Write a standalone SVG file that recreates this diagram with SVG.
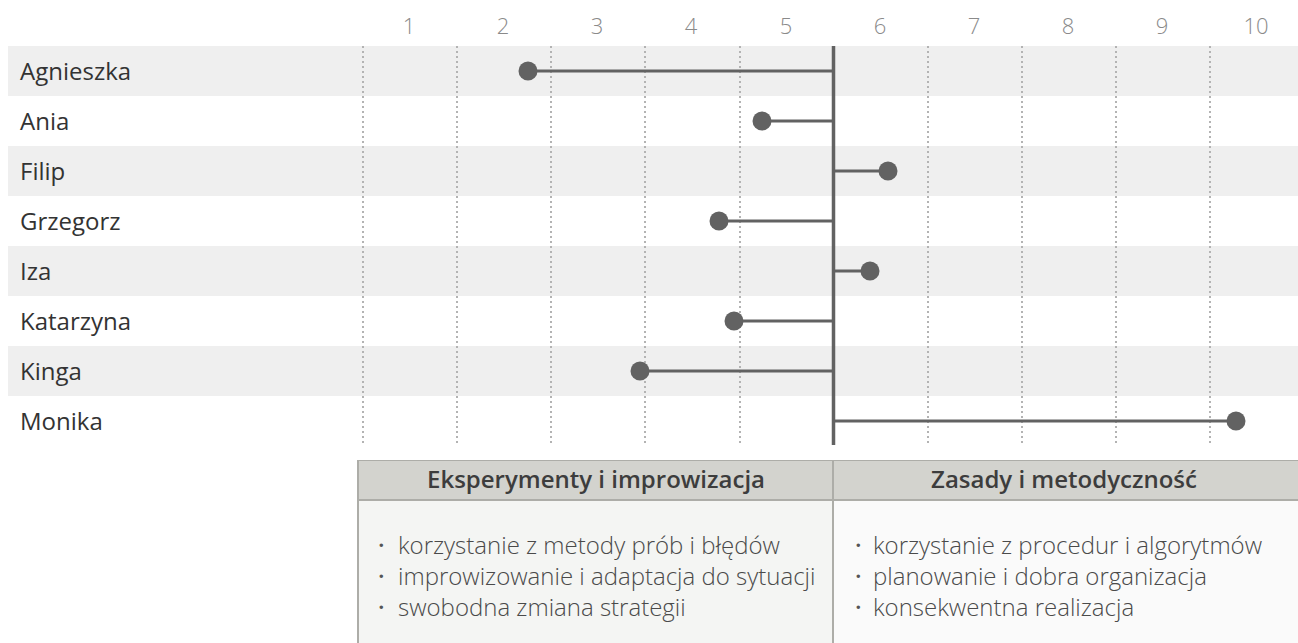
<svg xmlns="http://www.w3.org/2000/svg" width="1298" height="643" viewBox="0 0 1298 643">
<style>
.band{fill:#efefef}
.grid{stroke:#b3b3b3;stroke-width:2;stroke-dasharray:2 3}
.tick{font-family:"Open Sans","Liberation Sans",sans-serif;font-weight:300;font-size:22px;fill:#8a8a8a;text-anchor:middle}
.name{font-family:"Open Sans","Liberation Sans",sans-serif;font-size:24px;fill:#333}
.bar{stroke:#626262;stroke-width:3;fill:none}
.dot{fill:#626262}
.hdr{font-family:"Open Sans","Liberation Sans",sans-serif;font-weight:600;font-size:24px;fill:#3d3d3d;text-anchor:middle}
.item{font-family:"Open Sans","Liberation Sans",sans-serif;font-weight:300;font-size:24px;fill:#4a4a4a}
.bul{font-family:"Open Sans","Liberation Sans",sans-serif;font-weight:600;font-size:24px;fill:#555}
</style>
<rect width="1298" height="643" fill="#ffffff"/>
<g id="bands">
<rect class="band" x="8" y="46" width="1290" height="50"/>
<rect class="band" x="8" y="146" width="1290" height="50"/>
<rect class="band" x="8" y="246" width="1290" height="50"/>
<rect class="band" x="8" y="346" width="1290" height="50"/>
</g>
<g id="grid">
<line class="grid" x1="363" y1="46" x2="363" y2="446"/>
<line class="grid" x1="457" y1="46" x2="457" y2="446"/>
<line class="grid" x1="551" y1="46" x2="551" y2="446"/>
<line class="grid" x1="645" y1="46" x2="645" y2="446"/>
<line class="grid" x1="740" y1="46" x2="740" y2="446"/>
<line class="grid" x1="928" y1="46" x2="928" y2="446"/>
<line class="grid" x1="1022" y1="46" x2="1022" y2="446"/>
<line class="grid" x1="1116" y1="46" x2="1116" y2="446"/>
<line class="grid" x1="1210" y1="46" x2="1210" y2="446"/>
</g>
<g id="axis">
<text class="tick" x="409" y="34">1</text>
<text class="tick" x="503" y="34">2</text>
<text class="tick" x="597" y="34">3</text>
<text class="tick" x="691" y="34">4</text>
<text class="tick" x="786" y="34">5</text>
<text class="tick" x="880" y="34">6</text>
<text class="tick" x="974" y="34">7</text>
<text class="tick" x="1068" y="34">8</text>
<text class="tick" x="1162" y="34">9</text>
<text class="tick" x="1256" y="34">10</text>
</g>
<g id="names">
<text class="name" x="20" y="80">Agnieszka</text>
<text class="name" x="20" y="130">Ania</text>
<text class="name" x="20" y="180">Filip</text>
<text class="name" x="20" y="230">Grzegorz</text>
<text class="name" x="20" y="280">Iza</text>
<text class="name" x="20" y="330">Katarzyna</text>
<text class="name" x="20" y="380">Kinga</text>
<text class="name" x="20" y="430">Monika</text>
</g>
<g id="connectors">
<line class="bar" x1="528" y1="71" x2="833" y2="71"/>
<line class="bar" x1="762" y1="121" x2="833" y2="121"/>
<line class="bar" x1="833" y1="171" x2="888" y2="171"/>
<line class="bar" x1="719" y1="221" x2="833" y2="221"/>
<line class="bar" x1="833" y1="271" x2="870" y2="271"/>
<line class="bar" x1="734" y1="321" x2="833" y2="321"/>
<line class="bar" x1="640" y1="371" x2="833" y2="371"/>
<line class="bar" x1="833" y1="421" x2="1236" y2="421"/>
<line x1="833.5" y1="46" x2="833.5" y2="445" stroke="#626262" stroke-width="3.5"/>
</g>
<g id="dots">
<circle class="dot" id="d-agnieszka" cx="528" cy="71" r="9.5"/>
<circle class="dot" id="d-ania" cx="762" cy="121" r="9.5"/>
<circle class="dot" id="d-filip" cx="888" cy="171" r="9.5"/>
<circle class="dot" id="d-grzegorz" cx="719" cy="221" r="9.5"/>
<circle class="dot" id="d-iza" cx="870" cy="271" r="9.5"/>
<circle class="dot" id="d-katarzyna" cx="734" cy="321" r="9.5"/>
<circle class="dot" id="d-kinga" cx="640" cy="371" r="9.5"/>
<circle class="dot" id="d-monika" cx="1236" cy="421" r="9.5"/>
</g>
<g id="table-left">
<rect x="358" y="460" width="475" height="40" fill="#d3d3ce"/>
<rect x="358" y="501" width="475" height="150" fill="#f4f5f3"/>
<text class="hdr" x="596" y="488">Eksperymenty i improwizacja</text>
<text class="bul" x="378" y="554">·</text>
<text class="item" x="398" y="554">korzystanie z metody prób i błędów</text>
<text class="bul" x="378" y="585">·</text>
<text class="item" x="398" y="585">improwizowanie i adaptacja do sytuacji</text>
<text class="bul" x="378" y="616">·</text>
<text class="item" x="398" y="616">swobodna zmiana strategii</text>
</g>
<g id="table-right">
<rect x="833" y="460" width="465" height="40" fill="#d3d3ce"/>
<rect x="833" y="501" width="465" height="150" fill="#fafafa"/>
<text class="hdr" x="1064" y="488">Zasady i metodyczność</text>
<text class="bul" x="855" y="554">·</text>
<text class="item" x="873" y="554">korzystanie z procedur i algorytmów</text>
<text class="bul" x="855" y="585">·</text>
<text class="item" x="873" y="585">planowanie i dobra organizacja</text>
<text class="bul" x="855" y="616">·</text>
<text class="item" x="873" y="616">konsekwentna realizacja</text>
</g>
<g id="table-lines" stroke="#adada8" fill="none">
<line x1="357" y1="460.5" x2="1298" y2="460.5" stroke-width="1"/>
<line x1="357" y1="500" x2="1298" y2="500" stroke-width="2"/>
<line x1="358" y1="460" x2="358" y2="643" stroke-width="2"/>
<line x1="833" y1="460" x2="833" y2="643" stroke-width="2"/>
</g>
</svg>
